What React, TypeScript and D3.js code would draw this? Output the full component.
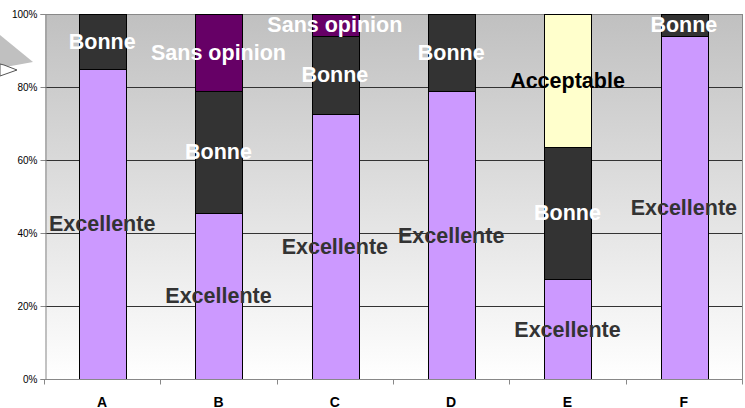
import * as d3 from 'd3';
import React, { useEffect, useRef } from 'react';

const categories = ['A', 'B', 'C', 'D', 'E', 'F'];
const seriesNames = ['Excellente', 'Bonne', 'Acceptable', 'Sans opinion'];
const excellente = [85, 45.5, 72.6, 78.9, 27.4, 94];
const bonne = [15, 33.4, 21.4, 21.1, 36.2, 6];
const acceptable = [0, 0, 0, 0, 36.4, 0];
const sansOpinion = [0, 21.1, 6, 0, 0, 0];
const yTicks = [0, 20, 40, 60, 80, 100];

const colors: Record<string, string> = {
  'Excellente': '#cc99ff',
  'Bonne': '#333333',
  'Acceptable': '#ffffcc',
  'Sans opinion': '#660066',
};
const labelColors: Record<string, string> = {
  'Excellente': '#333333',
  'Bonne': '#ffffff',
  'Acceptable': '#000000',
  'Sans opinion': '#ffffff',
};

const W = 745;
const H = 408;
const margin = { top: 14, right: 2, bottom: 29, left: 45 };

const App: React.FC = () => {
  const ref = useRef<SVGSVGElement | null>(null);

  useEffect(() => {
    if (!ref.current) return;
    const svg = d3.select(ref.current);
    svg.selectAll('*').remove();

    const rows = categories.map((c, i) => ({
      cat: c,
      'Excellente': excellente[i],
      'Bonne': bonne[i],
      'Acceptable': acceptable[i],
      'Sans opinion': sansOpinion[i],
    }));
    const stack = d3.stack<any>().keys(seriesNames);
    const layers = stack(rows);

    const x = d3.scaleBand().domain(categories)
      .range([margin.left, W - margin.right]).paddingInner(0).paddingOuter(0);
    const y = d3.scaleLinear().domain([0, 100]).range([H - margin.bottom, margin.top]);
    const barW = x.bandwidth() * 0.4;

    // fond dégradé
    const defs = svg.append('defs');
    const grad = defs.append('linearGradient').attr('id', 'bg').attr('x1', 0).attr('x2', 0).attr('y1', 0).attr('y2', 1);
    grad.append('stop').attr('offset', '0%').attr('stop-color', '#c0c0c0');
    grad.append('stop').attr('offset', '100%').attr('stop-color', '#ffffff');

    svg.append('rect')
      .attr('x', margin.left).attr('y', margin.top)
      .attr('width', W - margin.right - margin.left)
      .attr('height', H - margin.bottom - margin.top)
      .attr('fill', 'url(#bg)');

    // forme décorative en haut à gauche
    svg.append('polygon').attr('points', '0,35 33,62 0,68').attr('fill', '#c0c0c0');
    svg.append('polygon').attr('points', '0,64 4,65 17,70 0,76')
      .attr('fill', '#ffffff').attr('stroke', '#555').attr('stroke-width', 1);

    // grille
    svg.append('g').selectAll('line').data(yTicks.filter(t => t > 0 && t < 100)).enter()
      .append('line')
      .attr('x1', margin.left).attr('x2', W - margin.right)
      .attr('y1', d => Math.round(y(d)) + 0.5).attr('y2', d => Math.round(y(d)) + 0.5)
      .attr('stroke', '#333').attr('stroke-width', 1);

    // cadre
    svg.append('line').attr('x1', margin.left).attr('x2', W - margin.right)
      .attr('y1', y(100) + 0.5).attr('y2', y(100) + 0.5).attr('stroke', '#888');
    svg.append('line').attr('x1', W - margin.right - 0.5).attr('x2', W - margin.right - 0.5)
      .attr('y1', y(100)).attr('y2', y(0)).attr('stroke', '#888');

    // barres
    const g = svg.append('g');
    layers.forEach(layer => {
      g.selectAll(null).data(layer).enter()
        .filter(d => d[1] - d[0] > 0)
        .append('rect')
        .attr('x', d => Math.round((x(d.data.cat) ?? 0) + (x.bandwidth() - barW) / 2) - 0.5)
        .attr('width', Math.round(barW))
        .attr('y', d => Math.round(y(d[1])) + 0.5)
        .attr('height', d => Math.round(y(d[0])) - Math.round(y(d[1])))
        .attr('fill', colors[layer.key])
        .attr('stroke', '#000').attr('stroke-width', 1);
    });

    // axes
    const yAxis = d3.axisLeft(y).tickValues(yTicks).tickFormat(d => `${d}%`).tickSize(5).tickPadding(3);
    const ya = svg.append('g').attr('transform', `translate(${margin.left + 0.5},0)`).call(yAxis);
    ya.select('.domain').attr('stroke', '#888');
    ya.selectAll('.tick line').attr('stroke', '#888');
    ya.selectAll('.tick text').attr('font-family', 'Liberation Sans, Arial, sans-serif')
      .attr('font-size', 10).attr('fill', '#000');

    const xa = svg.append('g').attr('transform', `translate(0,${y(0) + 0.5})`);
    xa.append('line').attr('x1', margin.left).attr('x2', W - margin.right).attr('stroke', '#888');
    xa.selectAll('line.tk').data(d3.range(categories.length + 1)).enter()
      .append('line').attr('class', 'tk')
      .attr('x1', i => Math.round(margin.left + i * x.step()) - 0.5)
      .attr('x2', i => Math.round(margin.left + i * x.step()) - 0.5)
      .attr('y1', 0).attr('y2', 5).attr('stroke', '#888');
    xa.selectAll('text').data(categories).enter()
      .append('text')
      .attr('x', d => (x(d) ?? 0) + x.bandwidth() / 2 - 1)
      .attr('y', 27)
      .attr('text-anchor', 'middle')
      .attr('font-family', 'Liberation Sans, Arial, sans-serif')
      .attr('font-weight', 'bold').attr('font-size', 14)
      .text(d => d);

    // étiquettes
    const lg = svg.append('g');
    layers.forEach(layer => {
      lg.selectAll(null).data(layer).enter()
        .filter(d => d[1] - d[0] > 0)
        .append('text')
        .attr('x', d => (x(d.data.cat) ?? 0) + x.bandwidth() / 2 - 1)
        .attr('y', d => y((d[0] + d[1]) / 2))
        .attr('dy', '0.35em')
        .attr('text-anchor', 'middle')
        .attr('font-family', 'Liberation Sans, Arial, sans-serif')
        .attr('font-weight', 'bold').attr('font-size', 21.5)
        .attr('fill', labelColors[layer.key])
        .text(layer.key);
    });
  }, []);

  return (
    <svg ref={ref} width={W} height={H} style={{ position: 'absolute', left: 0, top: 0 }} />
  );
};

export default App;
